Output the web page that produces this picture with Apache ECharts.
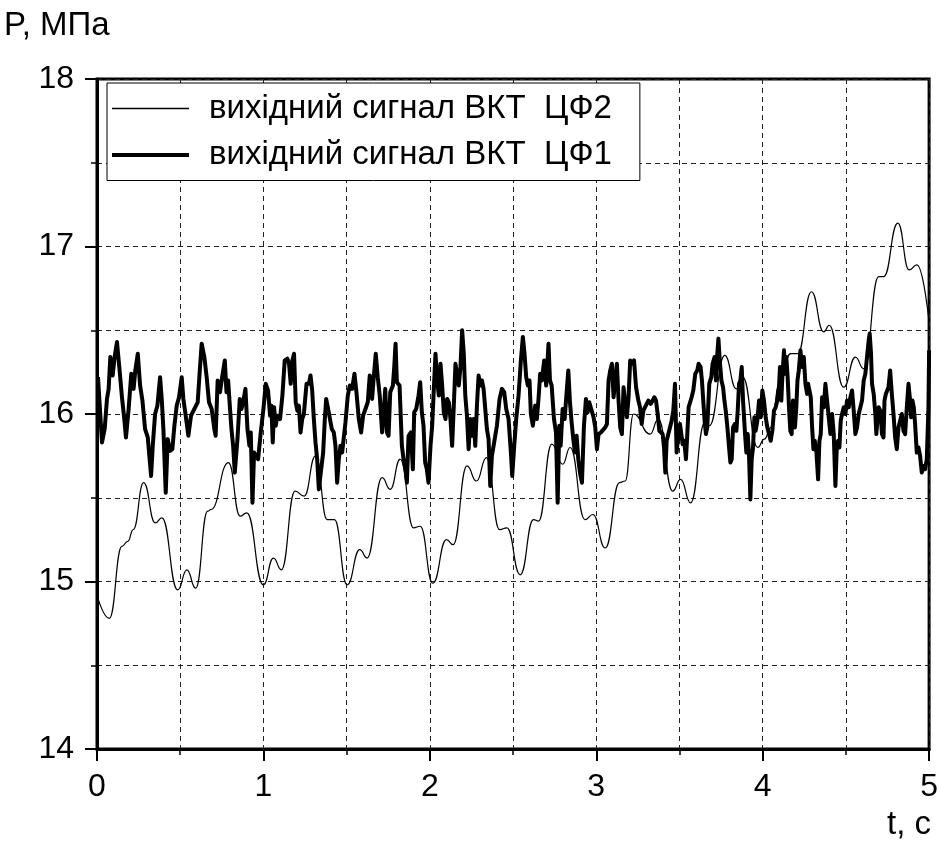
<!DOCTYPE html>
<html>
<head>
<meta charset="utf-8">
<script src="https://cdn.jsdelivr.net/npm/echarts@6/dist/echarts.min.js"></script>
<style>
html,body{margin:0;padding:0;background:#fff;}
#chart{width:941px;height:843px;}
</style>
</head>
<body>
<div id="chart"></div>
<script>
// Series names
const nameCF2 = 'вихідний сигнал ВКТ  ЦФ2';
const nameCF1 = 'вихідний сигнал ВКТ  ЦФ1';
const yAxisTitle = 'P, МПа';
const xAxisTitle = 't, c';

// Thin line (ЦФ2): [t, P]
const cf2Points = [
[0,14.92],[0.074,14.78],[0.15,15.21],[0.185,15.24],[0.218,15.31],[0.28,15.59],[0.35,15.35],[0.39,15.38],[0.485,14.95],[0.54,15.07],
[0.593,14.96],[0.665,15.42],[0.685,15.43],[0.79,15.71],[0.86,15.39],[0.9,15.41],[1.0,14.98],[1.06,15.14],[1.108,15.07],[1.19,15.54],
[1.245,15.51],[1.313,15.75],[1.383,15.37],[1.427,15.37],[1.503,14.98],[1.579,15.19],[1.623,15.14],[1.713,15.62],[1.762,15.55],[1.822,15.73],
[1.902,15.32],[1.942,15.33],[2.018,14.99],[2.1,15.25],[2.14,15.22],[2.223,15.69],[2.28,15.60],[2.34,15.74],[2.419,15.31],[2.463,15.32],
[2.543,15.04],[2.623,15.37],[2.653,15.36],[2.733,15.82],[2.798,15.70],[2.843,15.80],[2.932,15.37],[2.98,15.40],[3.054,15.20],[3.14,15.59],
[3.174,15.60],[3.224,16.00],[3.323,15.88],[3.373,15.97],[3.459,15.54],[3.507,15.61],[3.567,15.47],[3.653,15.95],[3.68,15.93],[3.772,16.35],
[3.842,16.15],[3.88,16.22],[3.97,15.80],[4.01,15.85],[4.05,15.92],[4.10,16.18],[4.168,16.36],[4.21,16.36],[4.293,16.73],[4.367,16.49],
[4.40,16.53],[4.487,16.16],[4.557,16.34],[4.607,16.27],[4.697,16.82],[4.727,16.82],[4.812,17.14],[4.88,16.86],[4.927,16.89],[5.0,16.55]
];

// Thick line (ЦФ1): [t, P]
const cf1Points = [
[0.006,16.22],[0.03,15.83],[0.046,15.91],[0.06,16.09],[0.07,16.15],[0.08,16.34],[0.094,16.23],[0.106,16.34],[0.12,16.43],[0.134,16.28],
[0.15,16.10],[0.164,15.97],[0.174,15.86],[0.19,16.03],[0.206,16.24],[0.22,16.15],[0.23,16.26],[0.245,16.36],[0.259,16.17],[0.273,16.08],
[0.289,15.91],[0.305,15.86],[0.313,15.85],[0.325,15.63],[0.335,15.81],[0.349,16.00],[0.363,16.05],[0.379,16.22],[0.389,16.09],[0.399,15.91],
[0.413,15.53],[0.425,15.85],[0.439,15.78],[0.453,15.79],[0.465,15.93],[0.479,16.05],[0.493,16.10],[0.509,16.22],[0.519,16.09],[0.533,15.99],
[0.549,15.87],[0.565,15.99],[0.585,16.03],[0.605,16.07],[0.619,16.28],[0.629,16.42],[0.645,16.34],[0.659,16.22],[0.673,16.07],[0.689,16.03],
[0.705,15.91],[0.713,15.87],[0.725,16.20],[0.739,16.13],[0.752,16.22],[0.768,16.32],[0.778,16.13],[0.788,16.20],[0.798,16.05],[0.808,15.91],
[0.818,15.81],[0.828,15.65],[0.844,15.85],[0.858,16.09],[0.868,16.03],[0.878,16.07],[0.892,16.15],[0.904,15.91],[0.916,15.81],[0.924,15.89],
[0.934,15.47],[0.944,15.77],[0.956,15.75],[0.968,15.73],[0.984,15.89],
[1.0,16.03],[1.014,16.18],[1.028,16.14],[1.04,15.99],[1.048,16.05],[1.056,15.83],[1.064,16.04],[1.074,15.93],[1.084,15.99],[1.1,15.97],
[1.114,16.11],[1.128,16.32],[1.144,16.33],[1.154,16.30],[1.164,16.18],[1.174,16.32],[1.184,16.36],[1.194,16.07],[1.204,16.02],[1.213,16.05],
[1.223,15.89],[1.233,15.97],[1.243,16.00],[1.259,16.18],[1.273,16.18],[1.283,16.23],[1.293,16.14],[1.303,15.97],[1.313,15.83],[1.323,15.73],
[1.333,15.55],[1.347,15.67],[1.359,15.77],[1.369,15.97],[1.377,16.09],[1.387,16.04],[1.399,16.03],[1.411,15.91],[1.423,15.89],[1.433,15.81],
[1.443,15.59],[1.453,15.73],[1.463,15.81],[1.473,15.77],[1.483,15.77],[1.493,15.95],[1.507,16.11],[1.519,16.17],[1.533,16.15],[1.547,16.24],
[1.559,16.13],[1.573,15.97],[1.587,15.89],[1.599,15.99],[1.613,16.03],[1.627,16.07],[1.639,16.23],[1.653,16.09],[1.663,16.22],[1.675,16.36],
[1.687,16.22],[1.699,16.11],[1.713,15.89],[1.722,15.99],[1.732,16.15],[1.742,15.89],[1.752,15.87],[1.762,16.13],[1.778,16.17],[1.786,16.28],
[1.794,16.42],[1.802,16.19],[1.818,16.17],[1.832,15.81],[1.842,15.73],[1.854,15.67],[1.862,15.59],[1.872,15.87],[1.886,15.89],[1.898,15.67],
[1.906,16.01],[1.918,16.03],[1.932,16.11],[1.942,16.19],[1.952,16.01],[1.962,15.93],[1.972,15.71],[1.982,15.67],[1.992,15.59],
[2.004,15.81],[2.014,15.93],[2.024,16.15],[2.034,16.36],[2.044,16.20],[2.054,16.11],[2.064,16.30],[2.074,16.17],[2.084,16.01],[2.094,15.97],
[2.104,16.09],[2.114,16.07],[2.124,15.97],[2.134,15.81],[2.144,16.05],[2.154,16.30],[2.164,16.23],[2.174,16.17],[2.184,16.28],[2.194,16.50],
[2.204,16.36],[2.213,16.11],[2.223,15.99],[2.233,15.79],[2.243,15.97],[2.253,15.87],[2.263,15.97],[2.273,15.81],[2.283,16.05],[2.293,16.23],
[2.303,16.17],[2.313,16.20],[2.323,16.15],[2.333,16.03],[2.343,15.91],[2.353,15.85],[2.363,15.57],[2.373,15.75],[2.383,15.81],[2.393,15.81],
[2.403,15.93],[2.419,16.09],[2.433,16.15],[2.447,16.13],[2.459,16.03],[2.473,15.97],[2.487,15.77],[2.495,15.63],[2.507,15.81],[2.519,15.97],
[2.533,16.11],[2.547,16.32],[2.559,16.46],[2.569,16.36],[2.579,16.22],[2.589,16.17],[2.599,16.20],[2.607,16.00],[2.619,15.93],[2.633,16.05],
[2.643,15.97],[2.653,16.09],[2.663,16.24],[2.673,16.20],[2.687,16.32],[2.699,16.17],[2.713,16.42],[2.722,16.20],[2.732,16.17],[2.746,15.97],
[2.758,15.89],[2.768,15.47],[2.778,15.93],[2.786,15.81],[2.798,16.03],[2.810,15.97],[2.822,16.13],[2.832,16.26],[2.842,16.07],[2.852,15.95],
[2.862,15.85],[2.872,15.77],[2.882,15.87],[2.892,15.73],[2.902,15.65],[2.914,15.59],[2.926,15.93],[2.938,16.09],[2.948,16.01],[2.958,16.07],
[2.984,15.98],[2.994,15.92],[3.004,15.79],[3.014,15.88],[3.028,15.89],[3.04,15.88],[3.054,15.92],[3.064,15.94],[3.074,16.20],[3.084,16.26],
[3.094,16.30],[3.104,16.10],[3.114,16.20],[3.124,16.30],[3.134,16.08],[3.144,15.92],[3.154,15.88],[3.164,16.16],[3.174,16.06],[3.184,15.98],
[3.194,16.10],[3.204,16.32],[3.213,16.30],[3.227,16.32],[3.239,16.16],[3.253,16.08],[3.263,16.04],[3.273,15.94],[3.283,16.02],[3.293,16.02],
[3.303,16.06],[3.313,16.08],[3.327,16.06],[3.339,16.08],[3.349,16.10],[3.359,16.08],[3.369,16.00],[3.379,15.90],[3.389,15.90],[3.399,15.88],
[3.407,15.80],[3.415,15.65],[3.423,15.84],[3.433,15.88],[3.443,15.92],[3.453,15.96],[3.463,16.02],[3.473,16.18],[3.483,15.77],[3.493,15.88],
[3.503,15.94],[3.511,15.88],[3.519,15.82],[3.529,15.84],[3.539,15.73],[3.547,15.88],[3.555,16.04],[3.563,16.04],[3.573,16.10],[3.583,16.14],
[3.595,16.24],[3.607,16.26],[3.615,16.30],[3.627,16.28],[3.635,16.20],[3.643,16.08],[3.651,15.96],[3.659,15.88],[3.667,15.92],[3.679,16.18],
[3.691,16.22],[3.699,16.30],[3.711,16.34],[3.719,16.20],[3.726,16.34],[3.734,16.45],[3.742,16.32],[3.752,16.20],[3.762,16.16],[3.770,16.08],
[3.778,16.02],[3.788,15.92],[3.798,15.80],[3.806,15.71],[3.814,15.73],[3.822,15.92],[3.832,15.94],[3.842,15.90],[3.850,16.02],[3.858,16.18],
[3.866,16.20],[3.874,16.28],[3.882,16.08],[3.888,15.98],[3.894,15.88],[3.902,15.77],[3.910,15.88],[3.918,15.75],[3.926,15.49],[3.934,15.73],
[3.942,15.80],[3.950,15.98],
[3.958,15.90],[3.968,15.96],[3.978,16.08],[3.988,15.98],[3.998,16.14],[4.008,16.08],[4.018,15.98],[4.028,15.92],[4.038,15.88],[4.048,15.84],
[4.058,15.90],[4.068,16.02],[4.078,16.04],[4.088,16.08],[4.098,16.16],[4.104,16.28],[4.112,16.08],[4.118,16.22],[4.128,16.38],[4.134,16.24],
[4.142,16.34],[4.150,16.22],[4.158,16.04],[4.166,15.90],[4.174,15.88],[4.182,16.08],[4.194,15.92],[4.202,16.04],[4.209,16.20],[4.217,16.26],
[4.227,16.38],[4.237,16.28],[4.247,16.34],[4.257,16.18],[4.267,16.12],[4.273,16.18],[4.281,16.14],[4.289,16.10],[4.297,15.92],[4.305,15.79],
[4.313,15.84],[4.323,15.77],[4.333,15.61],[4.341,15.84],[4.349,15.88],[4.357,16.10],[4.367,16.04],[4.377,16.18],[4.387,16.08],[4.397,15.98],
[4.407,15.88],[4.417,16.00],[4.427,15.88],[4.437,15.57],[4.445,15.79],[4.453,15.84],[4.461,15.80],[4.469,15.96],[4.477,16.00],[4.487,16.04],
[4.497,16.00],[4.507,16.08],[4.517,16.04],[4.527,16.10],[4.537,16.14],[4.547,16.02],[4.557,15.88],[4.567,15.92],[4.577,16.00],[4.587,16.04],
[4.597,16.08],[4.607,16.20],[4.617,16.24],[4.627,16.34],[4.637,16.44],[4.643,16.48],[4.651,16.36],[4.657,16.18],[4.667,16.12],[4.677,16.00],
[4.683,15.88],[4.689,15.96],[4.697,16.04],[4.707,16.02],[4.717,15.88],[4.726,15.86],[4.732,16.08],[4.740,16.12],[4.748,16.12],[4.756,16.16],
[4.766,16.26],[4.776,16.12],[4.786,16.00],[4.796,15.86],[4.806,15.79],[4.816,15.92],[4.826,15.96],[4.836,16.00],[4.846,15.90],[4.856,15.88],
[4.866,16.04],[4.876,16.18],[4.884,16.10],[4.892,15.98],[4.900,16.08],[4.908,16.04],[4.916,15.94],[4.926,15.77],[4.936,15.80],[4.946,15.75],
[4.956,15.65],[4.966,15.69],[4.976,15.67],[4.986,15.73],[4.996,16.04],[5.0,16.38]
];

const FONT = '"Liberation Sans", Arial, sans-serif';
const gridLine = { show: true, lineStyle: { color: '#222', width: 1, type: [5, 4] } };

const chart = echarts.init(document.getElementById('chart'), null, { renderer: 'canvas' });
chart.setOption({
  animation: false,
  backgroundColor: '#fff',
  grid: { left: 97, top: 79, right: 9, bottom: 94, show: true, borderColor: '#000', borderWidth: 3, backgroundColor: 'transparent' },
  xAxis: {
    type: 'value', min: 0, max: 5, interval: 1,
    axisLine: { show: true, onZero: false, lineStyle: { color: '#000', width: 3 } },
    axisTick: { show: true, inside: false, length: 12, lineStyle: { color: '#000', width: 2 } },
    minorTick: { show: true, splitNumber: 2, length: 6, lineStyle: { color: '#000', width: 1.5 } },
    splitLine: gridLine,
    minorSplitLine: gridLine,
    axisLabel: { fontSize: 32, color: '#000', fontFamily: FONT, margin: 22 }
  },
  yAxis: {
    type: 'value', min: 14, max: 18, interval: 1,
    axisLine: { show: true, onZero: false, lineStyle: { color: '#000', width: 3 } },
    axisTick: { show: true, inside: false, length: 12, lineStyle: { color: '#000', width: 2 } },
    minorTick: { show: true, splitNumber: 2, length: 6, lineStyle: { color: '#000', width: 1.5 } },
    splitLine: gridLine,
    minorSplitLine: gridLine,
    axisLabel: { fontSize: 32, color: '#000', fontFamily: FONT, margin: 23 }
  },
  legend: {
    orient: 'vertical', left: 107, top: 83,
    data: [
      { name: nameCF2, icon: 'path://M0,0H77V1.3H0Z' },
      { name: nameCF1, icon: 'path://M0,0H77V4H0Z' }
    ],
    backgroundColor: '#fff', borderColor: '#000', borderWidth: 1,
    padding: [9, 28, 9, 5],
    itemWidth: 77, itemHeight: 20, itemGap: 13.5,
    itemStyle: { color: '#000', borderWidth: 0 },
    textStyle: { fontSize: 33, color: '#000', fontFamily: FONT, padding: [0, 0, 0, 15] }
  },
  graphic: [
    { type: 'text', left: 4, top: 9, style: { text: yAxisTitle, font: '33px ' + FONT, fill: '#000' } },
    { type: 'text', right: 10, top: 808, style: { text: xAxisTitle, font: '33px ' + FONT, fill: '#000' } }
  ],
  series: [
    { name: nameCF2, type: 'line', data: cf2Points, symbol: 'none', showSymbol: false, smooth: 0.5, smoothMonotone: 'x',
      lineStyle: { color: '#000', width: 1.2 }, itemStyle: { color: '#000' }, z: 3 },
    { name: nameCF1, type: 'line', data: cf1Points, symbol: 'none', showSymbol: false,
      lineStyle: { color: '#000', width: 4, join: 'round' }, itemStyle: { color: '#000' }, z: 4 }
  ]
});
</script>
</body>
</html>
